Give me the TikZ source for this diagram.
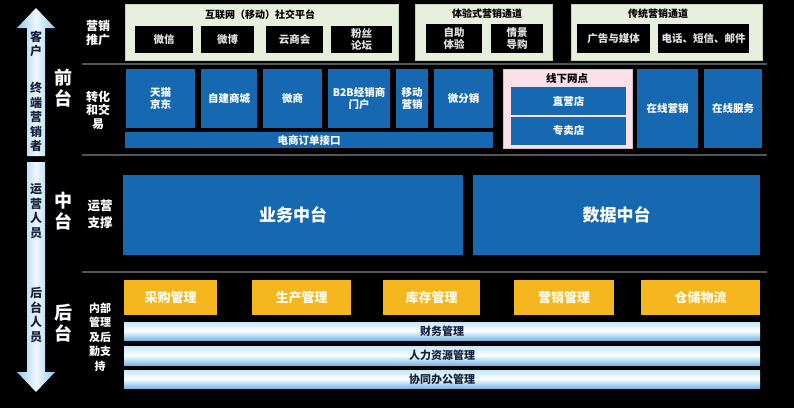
\documentclass[tikz,border=0pt]{standalone}
\usepackage{fontspec}
\setmainfont{Noto Sans CJK SC}
\definecolor{bblue}{RGB}{22,104,176}
\definecolor{gyel}{RGB}{245,182,30}
\definecolor{lgreen}{RGB}{231,240,220}
\definecolor{lgreenb}{RGB}{196,208,186}
\definecolor{lpink}{RGB}{249,224,234}
\definecolor{lpinkb}{RGB}{215,190,200}
\definecolor{sepc}{RGB}{85,85,85}
\definecolor{abl}{RGB}{150,200,238}
\definecolor{barTop}{RGB}{200,230,248}
\definecolor{barBot}{RGB}{120,185,230}
\definecolor{navy}{RGB}{20,35,60}
\newcommand\bx[7]{\node[#6, minimum width={(#4-#2)*1pt}, minimum height={(#5-#3)*1pt}] (#1) at ({(#2+#4)/2},{-(#3+#5)/2}) {#7};}
\begin{document}
\begin{tikzpicture}[x=1pt,y=1pt,
  base/.style={inner sep=0pt, outer sep=0pt, align=center, font=\fontsize{10.5}{12.5}\selectfont\bfseries},
  greenbox/.style={base, fill=lgreen, draw=lgreenb, line width=0.8pt},
  blackbox/.style={base, fill=black, text=white!88!black},
  bluebox/.style={base, fill=bblue, text=white},
  pinkbox/.style={base, fill=lpink, draw=lpinkb, line width=0.8pt},
  yelbox/.style={base, fill=gyel, text=white!95!yellow, font=\fontsize{13}{15}\selectfont\bfseries},
  barbox/.style={base, top color=barTop, bottom color=barBot, middle color=white!92!barTop, text=navy, font=\fontsize{11}{13}\selectfont\bfseries},
  title/.style={base, text=black, font=\fontsize{10}{12}\selectfont\bfseries},
  side/.style={base, text=white, font=\fontsize{12}{14}\selectfont\bfseries},
  big/.style={base, text=white, font=\fontsize{18}{21}\selectfont\bfseries},
  arrtxt/.style={base, text=navy, font=\fontsize{12}{14.5}\selectfont\bfseries},
  sepline/.style={draw=sepc, line width=1.2pt}
]
\useasboundingbox (0,0) rectangle (794,-408);
\fill[black] (0,0) rectangle (794,-408);

% arrows
\shade[left color=abl, right color=abl, middle color=white!85!abl]
  (36,-8) -- (55,-28) -- (45,-28) -- (45,-156) -- (27,-156) -- (27,-28) -- (17,-28) -- cycle;
\shade[left color=abl, right color=abl, middle color=white!85!abl]
  (27,-162) -- (45,-162) -- (45,-372) -- (55,-372) -- (36,-392) -- (17,-372) -- (27,-372) -- cycle;
\node[arrtxt] (a1) at (36,-44) {客\\户};
\node[arrtxt] (a2) at (36,-117) {终\\端\\营\\销\\者};
\node[arrtxt] (a3) at (36,-211) {运\\营\\人\\员};
\node[arrtxt] (a4) at (36,-315) {后\\台\\人\\员};

% big labels
\node[big] (qt) at (63,-88) {前\\台};
\node[big] (zt) at (63,-211) {中\\台};
\node[big] (ht) at (63,-323) {后\\台};

% side labels
\node[side] (s1) at (98,-33) {营销\\推广};
\node[side, font=\fontsize{12}{13.5}\selectfont\bfseries] (s2) at (98,-110) {转化\\和交\\易};
\node[side, font=\fontsize{12.5}{17}\selectfont\bfseries] (s3) at (100,-214) {运营\\支撑};
\node[side, font=\fontsize{11}{14.5}\selectfont\bfseries] (s4) at (100,-337) {内部\\管理\\及后\\勤支\\持};

% separators
\coordinate (l1a) at (82,-64); \coordinate (l1b) at (767,-64);
\coordinate (l2a) at (82,-155); \coordinate (l2b) at (767,-155);
\coordinate (l3a) at (82,-272); \coordinate (l3b) at (767,-272);
\draw[sepline] (l1a) -- (l1b);
\draw[sepline] (l2a) -- (l2b);
\draw[sepline] (l3a) -- (l3b);

% top green boxes
\bx{g1}{125}{4}{398}{60}{greenbox}{}
\bx{g2}{415}{4}{552}{60}{greenbox}{}
\bx{g3}{571}{4}{762}{60}{greenbox}{}
\node[title] (t1) at (260,-15) {互联网（移动）社交平台};
\node[title] (t2) at (487,-14) {体验式营销通道};
\node[title] (t3) at (658,-14) {传统营销通道};
\bx{wx}{135}{26}{193}{53}{blackbox}{微信}
\bx{wb}{201}{26}{254}{53}{blackbox}{微博}
\bx{ysh}{266}{26}{323}{53}{blackbox}{云商会}
\bx{fs}{331}{26}{392}{53}{blackbox}{粉丝\\论坛}
\bx{zz}{426}{24}{482}{53}{blackbox}{自助\\体验}
\bx{qj}{491}{24}{543}{53}{blackbox}{情景\\导购}
\bx{gg}{577}{24}{650}{53}{blackbox}{广告与媒体}
\bx{dh}{658}{24}{749}{53}{blackbox}{电话、短信、邮件}

% second row
\bx{tm}{126}{69}{195}{128}{bluebox}{天猫\\京东}
\bx{zj}{201}{69}{257}{128}{bluebox}{自建商城}
\bx{ws}{263}{69}{322}{128}{bluebox}{微商}
\bx{b2b}{328}{69}{390}{128}{bluebox}{B2B经销商\\门户}
\bx{yd}{396}{69}{428}{128}{bluebox}{移动\\营销}
\bx{wfx}{434}{69}{493}{128}{bluebox}{微分销}
\bx{ddjk}{125}{132}{493}{148}{bluebox}{电商订单接口}
\bx{xx}{503}{69}{632}{148}{pinkbox}{}
\node[title, font=\fontsize{10.5}{12}\selectfont\bfseries] (xxt) at (567,-78) {线下网点};
\bx{zy}{511}{87}{626}{115}{bluebox}{直营店}
\bx{zm}{511}{117}{626}{145}{bluebox}{专卖店}
\bx{zxyx}{637}{69}{698}{148}{bluebox}{在线营销}
\bx{zxfw}{704}{69}{762}{148}{bluebox}{在线服务}

% middle row
\bx{ywzt}{123}{175}{463}{255}{bluebox, font=\fontsize{17}{20}\selectfont\bfseries}{业务中台}
\bx{sjzt}{473}{175}{760}{255}{bluebox, font=\fontsize{17}{20}\selectfont\bfseries}{数据中台}

% back row
\bx{cg}{124}{280}{217}{315}{yelbox}{采购管理}
\bx{sc}{252}{280}{351}{315}{yelbox}{生产管理}
\bx{kc}{383}{280}{480}{315}{yelbox}{库存管理}
\bx{yx}{514}{280}{614}{315}{yelbox}{营销管理}
\bx{cc}{641}{280}{760}{315}{yelbox}{仓储物流}
\bx{cw}{124}{322}{760}{340}{barbox}{财务管理}
\bx{rl}{124}{346}{760}{365}{barbox}{人力资源管理}
\bx{xt}{124}{370}{760}{388}{barbox}{协同办公管理}
\end{tikzpicture}
\end{document}
